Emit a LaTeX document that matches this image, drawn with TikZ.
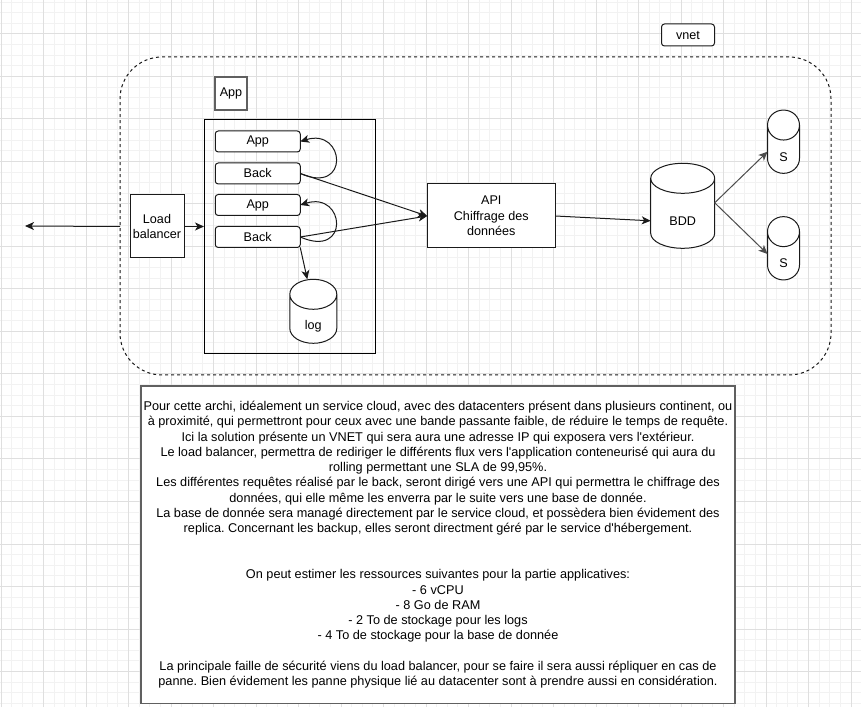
\documentclass[tikz,border=0pt]{standalone}
\usepackage{fontspec}
\newfontfamily\drawfont{Liberation Sans}
\usetikzlibrary{arrows.meta, calc, positioning}
\definecolor{gMinor}{HTML}{F2F2F2}
\definecolor{gMajor}{HTML}{DFDFDF}
\definecolor{mInk}{HTML}{1A1A1A}
\definecolor{mGrey}{HTML}{606060}
\pgfdeclarelayer{grid}
\pgfdeclarelayer{shapes}
\pgfsetlayers{grid,shapes,main}
\frenchspacing

% cylinder drawn round its body node: name, x radius
\newcommand{\cylout}[2]{%
  \begin{pgfonlayer}{shapes}
    \draw[line width=1pt, mInk, fill=white]
      ([yshift=15pt]#1.north west) -- ([yshift=15pt]#1.south west)
      arc[start angle=180, end angle=360, x radius=#2, y radius=15]
      -- ([yshift=15pt]#1.north east)
      arc[start angle=0, end angle=360, x radius=#2, y radius=15];
  \end{pgfonlayer}}

\begin{document}
\begin{tikzpicture}[x=1pt, y=1pt, font=\drawfont\fontsize{12.6pt}{15.3pt}\selectfont,
  >={Stealth[length=9pt, width=8pt, inset=2.5pt]},
  box/.style={draw=mInk, line width=1pt, fill=white, inner sep=0pt, outer sep=0pt, align=center},
  appbox/.style={box, rounded corners=3pt, minimum width=85pt, minimum height=21pt},
  body/.style={inner sep=0pt, outer sep=0pt, align=center},
  link/.style={->, line width=1pt, mInk}]
  \useasboundingbox (0,0) rectangle (861,707);
  % grid
  \begin{pgfonlayer}{grid}
    \fill[white] (0,0) rectangle (861,707);
    \foreach \k in {0,...,80} \draw[gMinor, line width=1pt] ({1+10.625*\k},0) -- ++(0,707);
    \foreach \k in {1,...,67} \draw[gMinor, line width=1pt] (0,{715.5-10.625*\k}) -- ++(861,0);
    \foreach \k in {0,...,20} \draw[gMajor, line width=1pt] ({1+42.5*\k},0) -- ++(0,707);
    \foreach \k in {1,...,16} \draw[gMajor, line width=1pt] (0,{715.5-42.5*\k}) -- ++(861,0);
  \end{pgfonlayer}
  % vnet
  \node[draw=mInk, dashed, line width=1pt, rounded corners=42pt, minimum width=711pt,
        minimum height=318pt, inner sep=0pt, outer sep=0pt] (vnetzone) at (475.5,491) {};
  \node[box, rounded corners=3pt, minimum width=53pt, minimum height=22pt] (vnet) at (688,672) {vnet};
  % app group
  \node[box, draw=mGrey, line width=1.3pt, minimum width=32pt, minimum height=33pt] (applabel) at (231,613.5) {App};
  \node[draw=black, line width=1pt, minimum width=171pt, minimum height=234pt,
        inner sep=0pt, outer sep=0pt] (appzone) at (289.5,470) {};
  \node[appbox] (app1) at (257.75,565.5) {App};
  \node[appbox] (back1) at (257.75,533.5) {Back};
  \node[appbox] (app2) at (257.75,502) {App};
  \node[appbox] (back2) at (257.75,470) {Back};
  \node[body, minimum width=47pt, minimum height=34pt] (log) at (313.3,380.7) {log};
  \cylout{log}{23.5}
  % load balancer, api, storage
  \node[box, minimum width=54pt, minimum height=63pt] (lb) at (157,480.5) {Load\\balancer};
  \node[box, minimum width=128pt, minimum height=64pt] (api) at (491.25,491) {API\\Chiffrage des\\données};
  \node[body, minimum width=64pt, minimum height=55pt] (bdd) at (682.7,486.2) {BDD};
  \cylout{bdd}{32}
  \node[body, minimum width=32pt, minimum height=33.3pt] (s1) at (783.5,550.3) {S};
  \cylout{s1}{16}
  \node[body, minimum width=32pt, minimum height=33.3pt] (s2) at (783.5,443.7) {S};
  \cylout{s2}{16}
  % notes
  \node[box, draw=mGrey, line width=1.5pt, minimum width=594pt, minimum height=317.5pt,
        font=\drawfont\fontsize{12.7pt}{15.3pt}\selectfont] (notes) at (438,162.25) {%
    Pour cette archi, idéalement un service cloud, avec des datacenters présent dans plusieurs continent, ou\\
    à proximité, qui permettront pour ceux avec une bande passante faible, de réduire le temps de requête.\\
    Ici la solution présente un VNET qui sera aura une adresse IP qui exposera vers l'extérieur.\\
    Le load balancer, permettra de rediriger le différents flux vers l'application conteneurisé qui aura du\\
    rolling permettant une SLA de 99,95\%.\\
    Les différentes requêtes réalisé par le back, seront dirigé vers une API qui permettra le chiffrage des\\
    données, qui elle même les enverra par le suite vers une base de donnée.\\
    La base de donnée sera managé directement par le service cloud, et possèdera bien évidement des\\
    replica. Concernant les backup, elles seront directment géré par le service d'hébergement.\\[30.6pt]
    On peut estimer les ressources suivantes pour la partie applicatives:\\
    - 6 vCPU\\
    - 8 Go de RAM\\
    - 2 To de stockage pour les logs\\
    - 4 To de stockage pour la base de donnée\\[15.3pt]
    La principale faille de sécurité viens du load balancer, pour se faire il sera aussi répliquer en cas de\\
    panne. Bien évidement les panne physique lié au datacenter sont à prendre aussi en considération.};
  % links
  \coordinate (outside) at (25,481);
  \draw[link] (vnetzone.west |- lb.center) -- (outside);
  \draw[link] (lb.east) -- (lb.east -| appzone.west);
  \draw[link] (back1.east) .. controls +(50,-22) and +(45,14) .. (app1.east);
  \draw[link] (back2.east) .. controls +(50,-22) and +(45,14) .. (app2.east);
  \draw[link] (back1.east) -- (api.west);
  \draw[link] (back2.east) -- (api.west);
  \draw[link] (back2.south east) -- ([shift={(-6pt,30pt)}]log.north);
  \draw[link] (api.east) -- (bdd.west);
  \draw[link, black!70] ([yshift=18pt]bdd.east) -- ([yshift=5pt]s1.west);
  \draw[link, black!70] ([yshift=18pt]bdd.east) -- ([yshift=9.3pt]s2.west);
\end{tikzpicture}
\end{document}
